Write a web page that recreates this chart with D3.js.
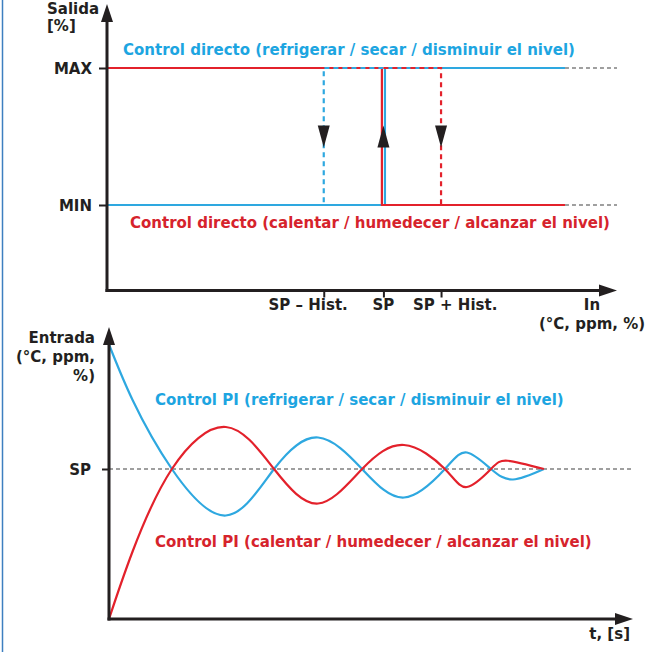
<!DOCTYPE html>
<html>
<head>
<meta charset="utf-8">
<script src="https://cdn.jsdelivr.net/npm/d3@7"></script>
<style>
  html, body { margin: 0; padding: 0; background: #fff; }
  svg { display: block; font-family: "DejaVu Sans", Verdana, sans-serif; font-weight: bold; }
</style>
</head>
<body>
<div id="content"></div>
<script>
// ---- Diagrama superior: control todo/nada con histéresis ----
const inputTicks = ['SP \u2013 Hist.', 'SP', 'SP + Hist.'];
const inputTickValues = [42.5, 54.2, 65.5];      // eje de entrada, 0-100
const outputTicks = ['MAX', 'MIN'];
const outputTickValues = [100, 0];                // salida en %
const outputEnd = 89.8;                           // donde terminan las líneas de salida

// [entrada, salida %]
const directCoolSolid  = [[0, 0], [54.5, 0], [54.5, 100], [89.8, 100]];
const directHeatSolid  = [[0, 100], [53.9, 100], [53.9, 0], [89.8, 0]];
const directCoolDashed = [[54.2, 100], [42.5, 100], [42.5, 0]];
const directHeatDashed = [[54.2, 100], [65.5, 100], [65.5, 0]];
// flechas de sentido [entrada, salida %, dirección]
const switchArrows = [[42.5, 50, 'down'], [54.2, 50, 'up'], [65.5, 50, 'down']];

// ---- Diagrama inferior: respuesta de un control PI ----
const spTicks = ['SP'];
const spTickValues = [0];
// [tiempo, desviación respecto al SP]
const piCool = [[0, 83], [4.5, 46], [12, 0], [22.3, -31], [31.5, 0], [39.9, 21],
                [48.3, 0], [56.3, -19], [64.1, 0], [68.3, 11], [72.9, 0], [77.1, -7], [83, 0]];
const piHeat = [[0, -100], [4.5, -55], [12, 0], [22.3, 28], [31.5, 0],
                [39.9, -23], [48.3, 0], [56.3, 16], [64.1, 0], [68.3, -12], [72.9, 0], [76.1, 5.5], [83, 0]];

const BLUE = '#2ea8e0';
const RED = '#e3212b';
const BLUE_TXT = '#1da5e1';
const RED_TXT = '#d6232c';
const INK = '#231f20';
const GREY = '#808080';
const FONT = '15px';

const width = 653;
const height = 652;

const svg = d3.select('#content')
  .append('svg')
  .attr('width', width)
  .attr('height', height);

// borde izquierdo
svg.append('line')
  .attr('x1', 2.5).attr('x2', 2.5)
  .attr('y1', 0).attr('y2', height)
  .attr('stroke', '#3d7fc0')
  .attr('stroke-width', 1.5);

const arrowHead = (g, x, y, dir, w, h) => {
  let p;
  if (dir === 'up') p = [[x, y], [x - w / 2, y + h], [x + w / 2, y + h]];
  else if (dir === 'down') p = [[x, y], [x - w / 2, y - h], [x + w / 2, y - h]];
  else p = [[x, y], [x - h, y - w / 2], [x - h, y + w / 2]];
  g.append('path')
    .attr('d', d3.line()(p) + 'Z')
    .attr('fill', INK);
};

const drawAxes = (g, x0, y0, xTip, yTip) => {
  g.append('line')
    .attr('x1', x0).attr('x2', x0).attr('y1', y0 + 1.5).attr('y2', yTip + 12)
    .attr('stroke', INK).attr('stroke-width', 3);
  g.append('line')
    .attr('x1', x0 - 1.5).attr('x2', xTip - 12).attr('y1', y0).attr('y2', y0)
    .attr('stroke', INK).attr('stroke-width', 3);
  arrowHead(g, x0, yTip, 'up', 12, 18);
  arrowHead(g, xTip, y0, 'right', 12, 18);
};

const styleAxis = sel => {
  sel.select('.domain').remove();
  sel.selectAll('.tick line').attr('stroke', INK).attr('stroke-width', 2);
  sel.selectAll('.tick text')
    .attr('fill', INK)
    .style('font-size', FONT)
    .style('font-weight', 'bold')
    .style('font-family', '"DejaVu Sans", Verdana, sans-serif');
};

const txt = (g, x, y, anchor, color, s) =>
  g.append('text')
    .attr('x', x).attr('y', y)
    .attr('text-anchor', anchor)
    .attr('fill', color)
    .style('font-size', FONT)
    .text(s);

// ================= Diagrama superior =================
const xIn = d3.scaleLinear().domain([0, 100]).range([107, 617]);
const yOut = d3.scaleLinear().domain([0, 100]).range([205, 68]);
const topAxisY = 290.5;

const topG = svg.append('g');

// líneas grises de prolongación
outputTickValues.forEach(v => {
  topG.append('line')
    .attr('x1', xIn(outputEnd)).attr('x2', xIn(100))
    .attr('y1', yOut(v)).attr('y2', yOut(v))
    .attr('stroke', GREY).attr('stroke-width', 1.5)
    .attr('stroke-dasharray', '4,3');
});

const lineIn = d3.line().x(d => xIn(d[0])).y(d => yOut(d[1]));

topG.append('path').datum(directCoolSolid)
  .attr('d', lineIn).attr('fill', 'none')
  .attr('stroke', BLUE).attr('stroke-width', 2.2);
topG.append('path').datum(directHeatSolid)
  .attr('d', lineIn).attr('fill', 'none')
  .attr('stroke', RED).attr('stroke-width', 2.2);
topG.append('path').datum(directCoolDashed)
  .attr('d', lineIn).attr('fill', 'none')
  .attr('stroke', BLUE).attr('stroke-width', 2.2)
  .attr('stroke-dasharray', '5,4');
topG.append('path').datum(directHeatDashed)
  .attr('d', lineIn).attr('fill', 'none')
  .attr('stroke', RED).attr('stroke-width', 2.2)
  .attr('stroke-dasharray', '5,4');

switchArrows.forEach(a => {
  const cx = xIn(a[0]);
  const cy = yOut(a[1]);
  if (a[2] === 'up') arrowHead(topG, cx, cy - 11, 'up', 12, 22);
  else arrowHead(topG, cx, cy + 11, 'down', 12, 22);
});

// ejes
drawAxes(topG, xIn(0), topAxisY, xIn(100), 4);

topG.append('g')
  .attr('transform', `translate(${xIn(0)},0)`)
  .call(d3.axisLeft(yOut).tickValues(outputTickValues)
    .tickFormat((d, i) => outputTicks[i]).tickSize(8).tickPadding(7))
  .call(styleAxis)
  .selectAll('.tick text').attr('dy', '0.36em');

topG.append('g')
  .attr('transform', `translate(0,${topAxisY})`)
  .call(d3.axisBottom(xIn).tickValues(inputTickValues).tickFormat('').tickSize(7))
  .call(styleAxis);

// etiquetas del eje de entrada (desplazadas como en el original)
const tickAnchor = ['end', 'middle', 'start'];
const tickShift = [24, 0, -28];
topG.selectAll('.in-label')
  .data(inputTicks)
  .enter()
  .append('text')
  .attr('class', 'in-label')
  .attr('x', (d, i) => xIn(inputTickValues[i]) + tickShift[i])
  .attr('y', 310)
  .attr('text-anchor', (d, i) => tickAnchor[i])
  .attr('fill', INK)
  .style('font-size', FONT)
  .text(d => d);

txt(topG, 47, 14, 'start', INK, 'Salida');
txt(topG, 47, 31, 'start', INK, '[%]');
txt(topG, 592, 310, 'middle', INK, 'In');
txt(topG, 592, 329, 'middle', INK, '(\u00b0C, ppm, %)');
txt(topG, 123, 55, 'start', BLUE_TXT, 'Control directo (refrigerar / secar / disminuir el nivel)');
txt(topG, 130, 228, 'start', RED_TXT, 'Control directo (calentar / humedecer / alcanzar el nivel)');

// ================= Diagrama inferior =================
const xT = d3.scaleLinear().domain([0, 100]).range([109, 633]);
const yPI = d3.scaleLinear().domain([-100, 100]).range([619, 319]);

const bottomG = svg.append('g');

bottomG.append('line')
  .attr('x1', xT(0)).attr('x2', xT(100))
  .attr('y1', yPI(0)).attr('y2', yPI(0))
  .attr('stroke', GREY).attr('stroke-width', 1.5)
  .attr('stroke-dasharray', '4,3');

const linePI = d3.line()
  .x(d => xT(d[0]))
  .y(d => yPI(d[1]))
  .curve(d3.curveNatural);

bottomG.append('path').datum(piCool)
  .attr('d', linePI).attr('fill', 'none')
  .attr('stroke', BLUE).attr('stroke-width', 2.2);
bottomG.append('path').datum(piHeat)
  .attr('d', linePI).attr('fill', 'none')
  .attr('stroke', RED).attr('stroke-width', 2.2);

drawAxes(bottomG, xT(0), yPI(-100), xT(100), 327);

bottomG.append('g')
  .attr('transform', `translate(${xT(0)},0)`)
  .call(d3.axisLeft(yPI).tickValues(spTickValues)
    .tickFormat((d, i) => spTicks[i]).tickSize(7).tickPadding(11))
  .call(styleAxis)
  .selectAll('.tick text').attr('dy', '0.36em');

txt(bottomG, 95, 343, 'end', INK, 'Entrada');
txt(bottomG, 95, 362, 'end', INK, '(\u00b0C, ppm,');
txt(bottomG, 95, 381, 'end', INK, '%)');
txt(bottomG, 630, 639, 'end', INK, 't, [s]');
txt(bottomG, 155, 405, 'start', BLUE_TXT, 'Control PI (refrigerar / secar / disminuir el nivel)');
txt(bottomG, 155, 547, 'start', RED_TXT, 'Control PI (calentar / humedecer / alcanzar el nivel)');
</script>
</body>
</html>
